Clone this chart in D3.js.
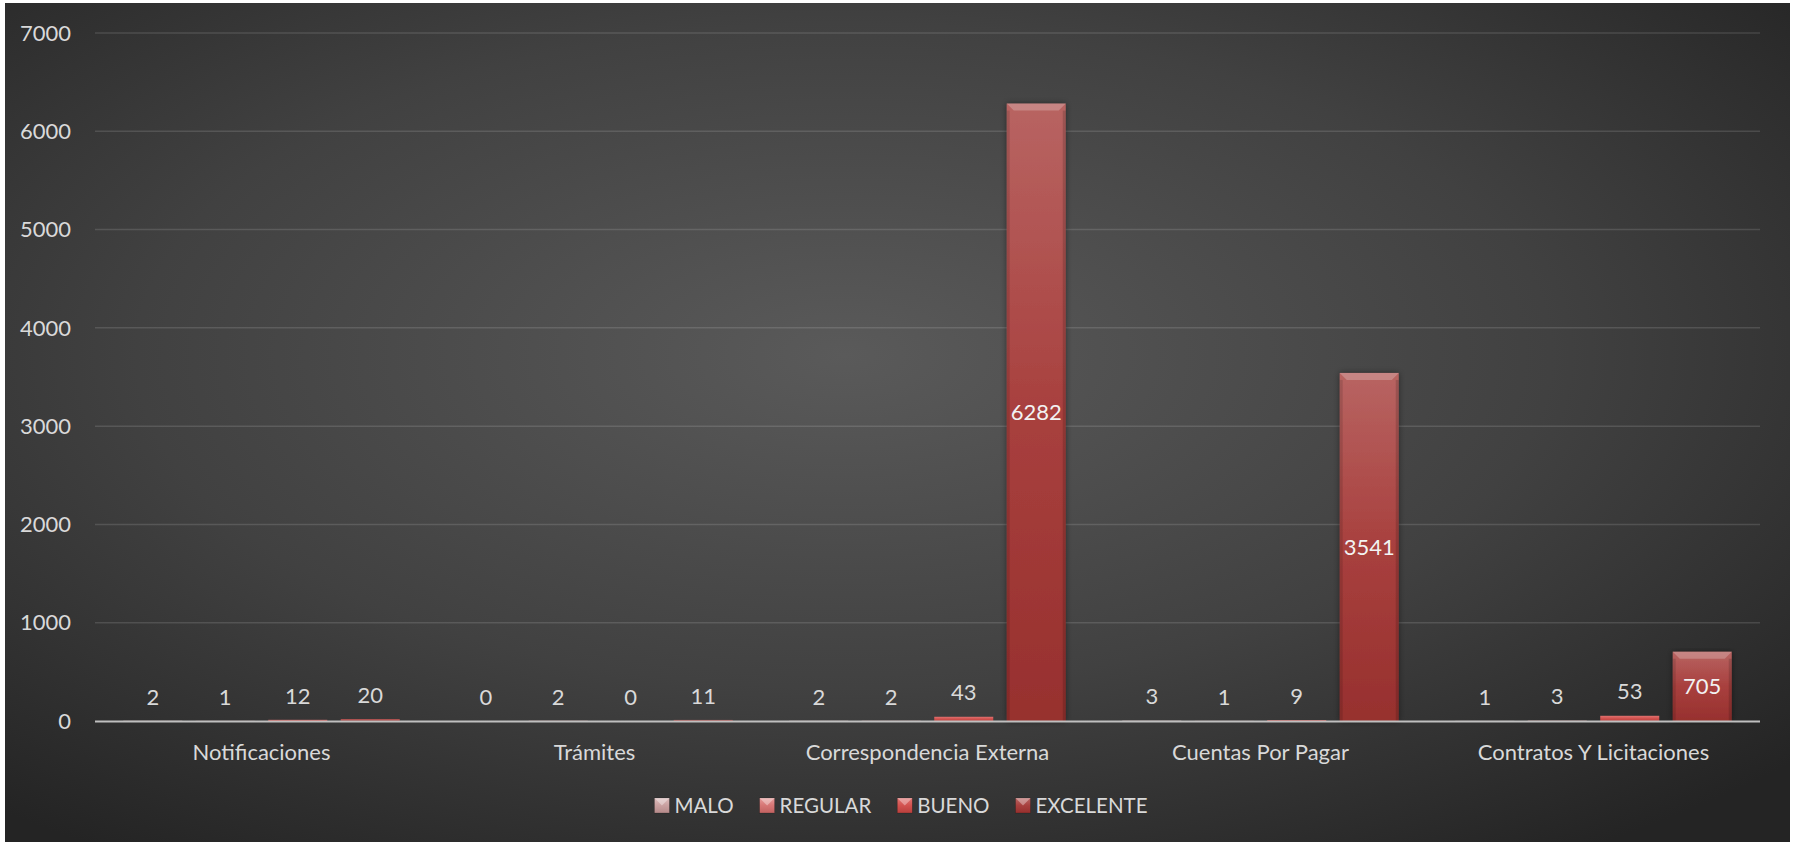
<!DOCTYPE html>
<html>
<head>
<meta charset="utf-8">
<script src="https://cdn.jsdelivr.net/npm/d3@7"></script>
<style>
body{margin:0;background:#fff;}
svg text{font-family:Lato,"Open Sans",sans-serif;}
</style>
</head>
<body>
<script>
// data
const categories=["Notificaciones","Trámites","Correspondencia Externa","Cuentas Por Pagar","Contratos Y Licitaciones"]
const seriesNames=["MALO","REGULAR","BUENO","EXCELENTE"]
const malo=[2,0,2,3,1]
const regular=[1,2,2,1,3]
const bueno=[12,0,43,9,53]
const excelente=[20,11,6282,3541,705]
const yTicks=[0,1000,2000,3000,4000,5000,6000,7000]

const values=[malo,regular,bueno,excelente]
const rows=categories.map((c,i)=>({cat:c,vals:seriesNames.map((s,j)=>({s:s,v:values[j][i]}))}))

//constants
const W=1796,H=842
const m={l:95,r:36,t:33,b:121}
const fs="22px"

//colors: top, middle, bottom
const colors={
  MALO:["#dcbcbc","#c9a0a0","#b58a8a"],
  REGULAR:["#e69a99","#d67675","#c26261"],
  BUENO:["#e07371","#d2524f","#b9403d"],
  EXCELENTE:["#b86462","#a8403e","#97302e"]
}

const svg=d3.select("body").append("svg").attr("width",W).attr("height",H)
const defs=svg.append("defs")

const bg=defs.append("radialGradient").attr("id","bg")
  .attr("cx","0.47").attr("cy","0.42").attr("r","0.72")
bg.append("stop").attr("offset","0").attr("stop-color","#5a5a5a")
bg.append("stop").attr("offset","0.55").attr("stop-color","#414141")
bg.append("stop").attr("offset","1").attr("stop-color","#242424")

seriesNames.forEach((s,i)=>{
  const g=defs.append("linearGradient").attr("id","g"+i)
    .attr("x1",0).attr("y1",0).attr("x2",0).attr("y2",1)
  g.append("stop").attr("offset","0").attr("stop-color",colors[s][0])
  g.append("stop").attr("offset","0.5").attr("stop-color",colors[s][1])
  g.append("stop").attr("offset","1").attr("stop-color",colors[s][2])
})

const shadow=defs.append("filter").attr("id","sh").attr("x","-20%").attr("y","-5%").attr("width","140%").attr("height","110%")
shadow.append("feDropShadow").attr("dx",0).attr("dy",0).attr("stdDeviation",3)
  .attr("flood-color","#000").attr("flood-opacity",0.45)

svg.append("rect").attr("x",5).attr("y",3).attr("width",1785).attr("height",839).attr("fill","url(#bg)")

//scales
const x0=d3.scaleBand().domain(categories).range([m.l,W-m.r]).padding(0)
const x1=d3.scaleBand().domain(seriesNames).range([0,x0.bandwidth()])
  .paddingInner(0.186).paddingOuter(0.39)
const y=d3.scaleLinear().domain([0,7000]).range([H-m.b,m.t])

//gridlines
svg.append("g").selectAll("line").data(yTicks.filter(d=>d>0)).enter().append("line")
  .attr("x1",m.l).attr("x2",W-m.r)
  .attr("y1",d=>y(d)).attr("y2",d=>y(d))
  .attr("stroke","#fff").attr("stroke-opacity",0.13).attr("stroke-width",1.5)

//y labels
svg.append("g").selectAll("text").data(yTicks).enter().append("text")
  .attr("x",71).attr("y",d=>y(d)).attr("dy","0.35em")
  .attr("text-anchor","end").attr("fill","#d9d9d9").style("font-size",fs)
  .text(d=>d)

//bars
const groups=svg.append("g").selectAll("g").data(rows).enter().append("g")
  .attr("transform",d=>"translate("+x0(d.cat)+",0)")

const bw=x1.bandwidth()
const bar=groups.selectAll("g").data(d=>d.vals).enter().append("g")

bar.append("rect")
  .attr("x",d=>x1(d.s)).attr("y",d=>y(d.v))
  .attr("width",bw).attr("height",d=>y(0)-y(d.v))
  .attr("fill",d=>"url(#g"+seriesNames.indexOf(d.s)+")")
  .attr("filter",d=>(y(0)-y(d.v))>20?"url(#sh)":null)

//bevel on top and side edges
const big=bar.filter(d=>(y(0)-y(d.v))>20)
big.append("path")
  .attr("d",d=>{
    const l=x1(d.s),t=y(d.v),b=7
    return "M"+l+","+t+"L"+(l+bw)+","+t+"L"+(l+bw-b)+","+(t+b)+"L"+(l+b)+","+(t+b)+"Z"
  })
  .attr("fill","#fff").attr("fill-opacity",0.22)
big.append("rect")
  .attr("x",d=>x1(d.s)).attr("y",d=>y(d.v)+7)
  .attr("width",3).attr("height",d=>y(0)-y(d.v)-7)
  .attr("fill","#000").attr("fill-opacity",0.12)
big.append("rect")
  .attr("x",d=>x1(d.s)+bw-3).attr("y",d=>y(d.v)+7)
  .attr("width",3).attr("height",d=>y(0)-y(d.v)-7)
  .attr("fill","#000").attr("fill-opacity",0.15)

//data labels
bar.append("text")
  .attr("x",d=>x1(d.s)+bw/2)
  .attr("y",d=>{
    const hgt=y(0)-y(d.v)
    return hgt>40?(y(d.v)+y(0))/2:y(d.v)-24
  })
  .attr("dy","0.35em").attr("text-anchor","middle")
  .attr("fill",d=>(y(0)-y(d.v))>40?"#f2f2f2":"#d9d9d9")
  .style("font-size",fs)
  .text(d=>d.v)

//x axis line
svg.append("line").attr("x1",m.l).attr("x2",W-m.r)
  .attr("y1",y(0)+0.5).attr("y2",y(0)+0.5)
  .attr("stroke","#bfbfbf").attr("stroke-width",2)

//category labels
svg.append("g").selectAll("text").data(categories).enter().append("text")
  .attr("x",d=>x0(d)+x0.bandwidth()/2).attr("y",752).attr("dy","0.35em")
  .attr("text-anchor","middle").attr("fill","#d9d9d9").style("font-size",fs)
  .text(d=>d)

// legend
const legend=svg.append("g")
let lx=0
const items=[]
seriesNames.forEach(s=>{
  const t=legend.append("text").attr("y",806).attr("dy","0.35em")
    .attr("fill","#d9d9d9").style("font-size","20.5px").text(s)
  const tw=t.node().getComputedTextLength()
  items.push({s:s,x:lx,t:t})
  t.attr("x",lx+20)
  lx+=20+tw+26
})
const totalW=lx-26
legend.attr("transform","translate("+(901-totalW/2)+",0)")
items.forEach((it,i)=>{
  legend.append("rect").attr("x",it.x).attr("y",798).attr("width",15).attr("height",15)
    .attr("fill","url(#g"+i+")").attr("stroke","#000").attr("stroke-opacity",0.3).attr("stroke-width",0.6)
  legend.append("path")
    .attr("d","M"+it.x+",798L"+(it.x+15)+",798L"+(it.x+7.5)+",805.5Z")
    .attr("fill","#fff").attr("fill-opacity",0.35)
})
</script>
</body>
</html>
